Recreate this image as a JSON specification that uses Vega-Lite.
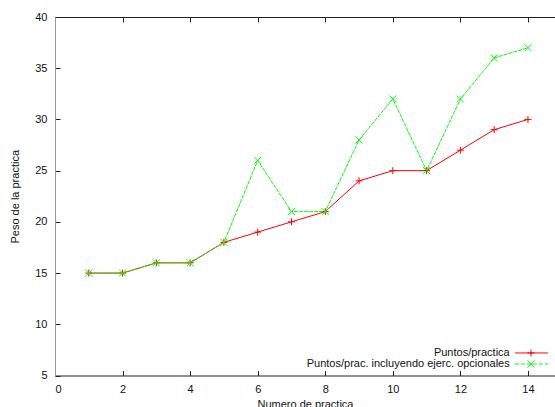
{
  "$schema": "https://vega.github.io/schema/vega-lite/v6.json",
  "width": 500,
  "height": 358.5,
  "autosize": {"type": "none"},
  "padding": {"left": 55, "top": 17, "right": 0, "bottom": 31.5},
  "background": "white",
  "config": {
    "view": {"stroke": null},
    "font": "Liberation Sans",
    "axis": {
      "grid": false,
      "labelFont": "Liberation Sans",
      "labelFontSize": 11,
      "labelColor": "#111",
      "titleFont": "Liberation Sans",
      "titleFontSize": 11,
      "titleFontWeight": "normal",
      "titleColor": "#111",
      "domainColor": "#222",
      "tickColor": "#222",
      "tickSize": -5
    }
  },
  "datasets": {
    "puntos": [
      {"practica": 1, "serie": "Puntos/practica", "peso": 15},
      {"practica": 2, "serie": "Puntos/practica", "peso": 15},
      {"practica": 3, "serie": "Puntos/practica", "peso": 16},
      {"practica": 4, "serie": "Puntos/practica", "peso": 16},
      {"practica": 5, "serie": "Puntos/practica", "peso": 18},
      {"practica": 6, "serie": "Puntos/practica", "peso": 19},
      {"practica": 7, "serie": "Puntos/practica", "peso": 20},
      {"practica": 8, "serie": "Puntos/practica", "peso": 21},
      {"practica": 9, "serie": "Puntos/practica", "peso": 24},
      {"practica": 10, "serie": "Puntos/practica", "peso": 25},
      {"practica": 11, "serie": "Puntos/practica", "peso": 25},
      {"practica": 12, "serie": "Puntos/practica", "peso": 27},
      {"practica": 13, "serie": "Puntos/practica", "peso": 29},
      {"practica": 14, "serie": "Puntos/practica", "peso": 30},
      {"practica": 1, "serie": "Puntos/prac. incluyendo ejerc. opcionales", "peso": 15},
      {"practica": 2, "serie": "Puntos/prac. incluyendo ejerc. opcionales", "peso": 15},
      {"practica": 3, "serie": "Puntos/prac. incluyendo ejerc. opcionales", "peso": 16},
      {"practica": 4, "serie": "Puntos/prac. incluyendo ejerc. opcionales", "peso": 16},
      {"practica": 5, "serie": "Puntos/prac. incluyendo ejerc. opcionales", "peso": 18},
      {"practica": 6, "serie": "Puntos/prac. incluyendo ejerc. opcionales", "peso": 26},
      {"practica": 7, "serie": "Puntos/prac. incluyendo ejerc. opcionales", "peso": 21},
      {"practica": 8, "serie": "Puntos/prac. incluyendo ejerc. opcionales", "peso": 21},
      {"practica": 9, "serie": "Puntos/prac. incluyendo ejerc. opcionales", "peso": 28},
      {"practica": 10, "serie": "Puntos/prac. incluyendo ejerc. opcionales", "peso": 32},
      {"practica": 11, "serie": "Puntos/prac. incluyendo ejerc. opcionales", "peso": 25},
      {"practica": 12, "serie": "Puntos/prac. incluyendo ejerc. opcionales", "peso": 32},
      {"practica": 13, "serie": "Puntos/prac. incluyendo ejerc. opcionales", "peso": 36},
      {"practica": 14, "serie": "Puntos/prac. incluyendo ejerc. opcionales", "peso": 37}
    ]
  },
  "data": {"name": "puntos"},
  "resolve": {"axis": {"x": "independent"}},
  "layer": [
    {
      "transform": [{"filter": "datum.serie === 'Puntos/practica'"}],
      "mark": {"type": "line", "color": "#ff0000", "strokeWidth": 1},
      "encoding": {
        "x": {"field": "practica", "type": "quantitative",
          "scale": {"domain": [0, 14.8], "nice": false, "zero": false},
          "axis": {"orient": "bottom", "values": [0, 2, 4, 6, 8, 10, 12, 14], "title": "Numero de practica", "labelPadding": 13, "titlePadding": 4}},
        "y": {"field": "peso", "type": "quantitative",
          "scale": {"domain": [5, 40], "nice": false, "zero": false},
          "axis": {"orient": "left", "values": [5, 10, 15, 20, 25, 30, 35, 40], "title": "Peso de la practica", "domainColor": "#999", "labelPadding": 13, "titlePadding": 14}}
      }
    },
    {
      "transform": [{"filter": "datum.serie === 'Puntos/practica'"}],
      "mark": {"type": "point", "shape": "M-1,0L1,0M0,-1L0,1", "filled": false, "color": "#ff0000", "strokeWidth": 1, "size": 49, "opacity": 1},
      "encoding": {
        "x": {"field": "practica", "type": "quantitative", "axis": {"orient": "top", "values": [0, 2, 4, 6, 8, 10, 12, 14], "labels": false, "title": null}},
        "y": {"field": "peso", "type": "quantitative"}
      }
    },
    {
      "transform": [{"filter": "datum.serie !== 'Puntos/practica'"}],
      "mark": {"type": "line", "color": "#00ff00", "strokeWidth": 1, "strokeDash": [4, 1]},
      "encoding": {
        "x": {"field": "practica", "type": "quantitative", "axis": null},
        "y": {"field": "peso", "type": "quantitative"}
      }
    },
    {
      "transform": [{"filter": "datum.serie !== 'Puntos/practica'"}],
      "mark": {"type": "point", "shape": "M-1,-1L1,1M-1,1L1,-1", "filled": false, "color": "#00ff00", "strokeWidth": 1, "size": 49, "opacity": 1},
      "encoding": {
        "x": {"field": "practica", "type": "quantitative", "axis": null},
        "y": {"field": "peso", "type": "quantitative"}
      }
    },
    {
      "data": {"values": [{"label": "Puntos/practica"}]},
      "mark": {"type": "text", "align": "right", "baseline": "middle", "fontSize": 11, "color": "#111", "font": "Liberation Sans"},
      "encoding": {
        "x": {"datum": 13.46, "type": "quantitative", "axis": null},
        "y": {"datum": 7.2, "type": "quantitative"},
        "text": {"field": "label"}
      }
    },
    {
      "data": {"values": [{"label": "Puntos/prac. incluyendo ejerc. opcionales"}]},
      "mark": {"type": "text", "align": "right", "baseline": "middle", "fontSize": 11, "color": "#111", "font": "Liberation Sans"},
      "encoding": {
        "x": {"datum": 13.46, "type": "quantitative", "axis": null},
        "y": {"datum": 6.12, "type": "quantitative"},
        "text": {"field": "label"}
      }
    },
    {
      "data": {"values": [{"serie": "Puntos/practica"}]},
      "mark": {"type": "rule", "color": "#ff0000", "strokeWidth": 1},
      "encoding": {
        "x": {"datum": 13.61, "type": "quantitative", "axis": null},
        "x2": {"datum": 14.59},
        "y": {"datum": 7.2, "type": "quantitative"}
      }
    },
    {
      "data": {"values": [{"serie": "Puntos/practica"}]},
      "mark": {"type": "point", "shape": "M-1,0L1,0M0,-1L0,1", "filled": false, "color": "#ff0000", "strokeWidth": 1, "size": 49, "opacity": 1},
      "encoding": {
        "x": {"datum": 14.09, "type": "quantitative", "axis": null},
        "y": {"datum": 7.2, "type": "quantitative"}
      }
    },
    {
      "data": {"values": [{"serie": "Puntos/prac. incluyendo ejerc. opcionales"}]},
      "mark": {"type": "rule", "color": "#00ff00", "strokeWidth": 1, "strokeDash": [4, 2]},
      "encoding": {
        "x": {"datum": 13.61, "type": "quantitative", "axis": null},
        "x2": {"datum": 14.59},
        "y": {"datum": 6.12, "type": "quantitative"}
      }
    },
    {
      "data": {"values": [{"serie": "Puntos/prac. incluyendo ejerc. opcionales"}]},
      "mark": {"type": "point", "shape": "M-1,-1L1,1M-1,1L1,-1", "filled": false, "color": "#00ff00", "strokeWidth": 1, "size": 49, "opacity": 1},
      "encoding": {
        "x": {"datum": 14.09, "type": "quantitative", "axis": null},
        "y": {"datum": 6.12, "type": "quantitative"}
      }
    }
  ]
}
